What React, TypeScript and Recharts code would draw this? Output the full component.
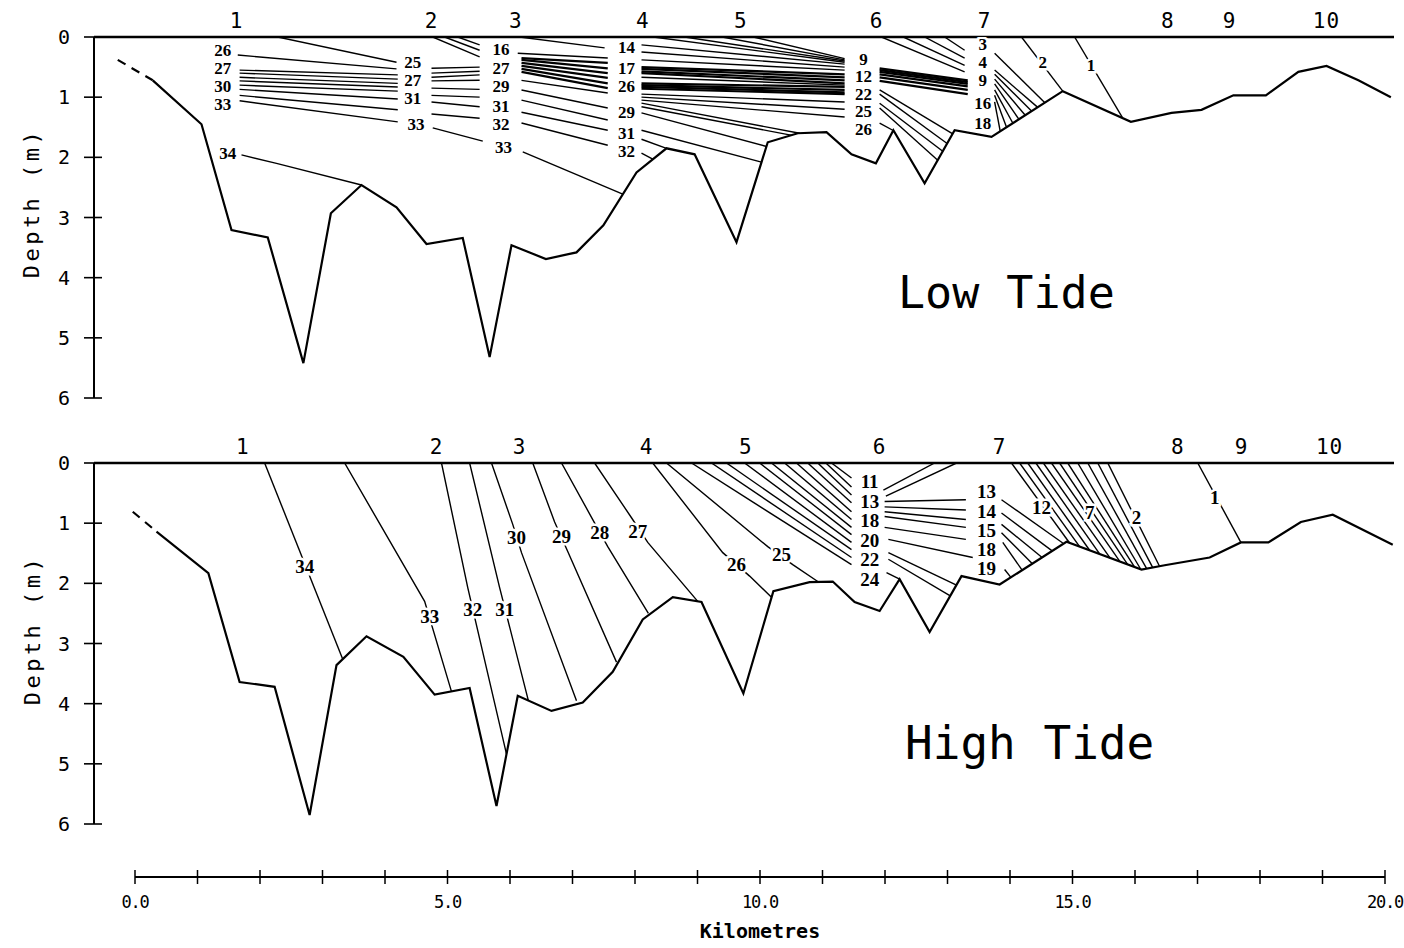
import { ComposedChart, Line, Scatter, XAxis, YAxis } from "recharts";

type Pt = [number, number];
type Tag = [number, number, string];

const MONO = "DejaVu Sans Mono";
const SERIF = "Liberation Serif";
const KM_DOMAIN: [number, number] = [-0.65, 20.15];

// station positions along the estuary (km)
const stationKmLow = [1.63, 4.75, 6.1, 8.13, 9.7, 11.87, 13.6, 16.53, 17.52, 19.07];
const stationKmHigh = [1.73, 4.83, 6.16, 8.19, 9.78, 11.92, 13.84, 16.69, 17.71, 19.12];
const depthTicks = [0, 1, 2, 3, 4, 5, 6];
const kmTicks = [0, 1, 2, 3, 4, 5, 6, 7, 8, 9, 10, 11, 12, 13, 14, 15, 16, 17, 18, 19, 20];

// bed profile, [km, depth m]
const lowBedDashed: Pt[] = [[-0.27, 0.38], [0.29, 0.72]];
const lowBed: Pt[] = [
  [0.29, 0.72], [1.07, 1.45], [1.55, 3.21], [2.13, 3.33], [2.7, 5.42], [3.14, 2.93],
  [3.63, 2.46], [4.19, 2.83], [4.67, 3.44], [5.25, 3.34], [5.68, 5.32], [6.03, 3.46],
  [6.58, 3.69], [7.07, 3.58], [7.5, 3.13], [8.03, 2.25], [8.51, 1.85], [8.96, 1.95],
  [9.63, 3.41], [10.13, 1.75], [10.61, 1.6], [11.07, 1.58], [11.47, 1.95], [11.86, 2.1],
  [12.14, 1.55], [12.64, 2.43], [13.12, 1.55], [13.71, 1.66], [14.85, 0.9], [15.94, 1.41],
  [16.59, 1.26], [17.07, 1.21], [17.58, 0.97], [18.1, 0.97], [18.62, 0.58], [19.07, 0.48],
  [19.58, 0.72], [20.1, 1.0],
];
const highBedDashed: Pt[] = [[-0.03, 0.81], [0.35, 1.14]];
const highBed: Pt[] = [
  [0.35, 1.14], [1.18, 1.83], [1.68, 3.64], [2.24, 3.72], [2.8, 5.85], [3.23, 3.36],
  [3.71, 2.88], [4.3, 3.22], [4.8, 3.85], [5.36, 3.74], [5.79, 5.7], [6.13, 3.87],
  [6.67, 4.12], [7.17, 3.98], [7.65, 3.47], [8.13, 2.6], [8.61, 2.23], [9.07, 2.31],
  [9.74, 3.83], [10.22, 2.13], [10.8, 1.98], [11.17, 1.97], [11.52, 2.31], [11.92, 2.46],
  [12.24, 1.93], [12.72, 2.81], [13.23, 1.88], [13.84, 2.02], [14.91, 1.31], [16.11, 1.77],
  [16.48, 1.7], [17.2, 1.57], [17.7, 1.32], [18.14, 1.32], [18.66, 0.98], [19.17, 0.86],
  [20.13, 1.36],
];

// isohalines, low tide
const lowIsohalines: Pt[][] = [
  [[2.29, 0], [4.19, 0.42]],
  [[1.65, 0.3], [4.19, 0.53]],
  [[1.68, 0.55], [4.21, 0.63]],
  [[1.68, 0.6], [4.21, 0.7]],
  [[1.68, 0.67], [4.21, 0.77]],
  [[1.68, 0.73], [4.21, 0.83]],
  [[1.68, 0.8], [4.21, 0.9]],
  [[1.68, 0.87], [4.21, 1.03]],
  [[1.68, 0.97], [4.21, 1.21]],
  [[1.68, 1.06], [4.21, 1.41]],
  [[1.71, 1.96], [2.27, 2.1], [3.63, 2.46]],
  [[4.77, 0], [5.52, 0.33]],
  [[4.96, 0], [5.52, 0.22]],
  [[5.17, 0], [5.52, 0.13]],
  [[4.75, 0.52], [5.52, 0.5]],
  [[4.75, 0.6], [5.52, 0.57]],
  [[4.75, 0.67], [5.52, 0.63]],
  [[4.75, 0.73], [5.52, 0.72]],
  [[4.75, 0.85], [5.52, 0.87]],
  [[4.75, 0.97], [5.52, 1.0]],
  [[4.75, 1.08], [5.52, 1.16]],
  [[4.75, 1.28], [5.52, 1.35]],
  [[4.77, 1.51], [5.57, 1.73]],
  [[6.16, 0], [7.52, 0.18]],
  [[6.13, 0.27], [7.57, 0.35]],
  [[6.19, 0.72], [7.57, 0.93]],
  [[6.19, 0.88], [7.57, 1.18]],
  [[6.19, 1.05], [7.57, 1.38]],
  [[6.19, 1.25], [7.57, 1.55]],
  [[6.19, 1.43], [7.57, 1.8]],
  [[6.21, 1.91], [7.81, 2.61]],
  [[8.3, 0], [11.36, 0.42]],
  [[8.8, 0], [11.36, 0.4]],
  [[9.4, 0], [11.36, 0.38]],
  [[9.9, 0], [11.36, 0.36]],
  [[8.11, 0.13], [11.36, 0.45]],
  [[8.11, 0.25], [11.36, 0.5]],
  [[8.11, 0.38], [11.36, 0.55]],
  [[8.11, 0.67], [11.36, 0.8]],
  [[8.11, 0.95], [11.36, 1.08]],
  [[8.11, 1.0], [11.36, 1.2]],
  [[8.11, 1.05], [11.36, 1.33]],
  [[8.11, 1.1], [10.64, 1.6]],
  [[8.11, 1.16], [10.5, 1.63]],
  [[8.11, 1.26], [10.11, 1.82]],
  [[8.11, 1.55], [10.03, 2.08]],
  [[8.11, 1.7], [8.51, 1.85]],
  [[8.11, 1.93], [8.29, 2.03]],
  [[11.95, 0], [13.28, 0.58]],
  [[12.3, 0], [13.28, 0.47]],
  [[12.64, 0], [13.28, 0.35]],
  [[12.96, 0], [13.28, 0.22]],
  [[11.92, 0.88], [13.09, 1.61]],
  [[11.92, 0.95], [13.0, 1.77]],
  [[11.92, 1.1], [12.93, 1.9]],
  [[11.92, 1.18], [12.85, 2.05]],
  [[11.92, 1.43], [12.13, 1.55]],
  [[13.76, 0.27], [14.56, 1.09]],
  [[14.19, 0], [14.85, 0.9]],
  [[15.04, 0], [15.81, 1.35]],
  [[13.76, 0.55], [14.45, 1.17]],
  [[13.76, 0.62], [14.35, 1.23]],
  [[13.76, 0.7], [14.25, 1.3]],
  [[13.76, 0.78], [14.15, 1.37]],
  [[13.76, 0.88], [14.05, 1.43]],
  [[13.76, 0.97], [13.95, 1.5]],
  [[13.76, 1.08], [13.85, 1.57]],
];

// tightly packed isohalines (drawn heavier)
const lowBands: Pt[][] = [
  [[6.19, 0.35], [7.57, 0.43]],
  [[6.19, 0.38], [7.57, 0.52]],
  [[6.19, 0.43], [7.57, 0.6]],
  [[6.19, 0.48], [7.57, 0.68]],
  [[6.19, 0.53], [7.57, 0.77]],
  [[6.19, 0.58], [7.57, 0.85]],
  [[8.11, 0.5], [11.36, 0.62]],
  [[8.11, 0.53], [11.36, 0.67]],
  [[8.11, 0.57], [11.36, 0.72]],
  [[8.11, 0.6], [11.36, 0.77]],
  [[8.11, 0.77], [11.36, 0.83]],
  [[8.11, 0.8], [11.36, 0.88]],
  [[8.11, 0.83], [11.36, 0.92]],
  [[8.11, 0.86], [11.36, 0.95]],
  [[11.92, 0.52], [13.33, 0.72]],
  [[11.92, 0.55], [13.33, 0.75]],
  [[11.92, 0.58], [13.33, 0.78]],
  [[11.92, 0.62], [13.33, 0.82]],
  [[11.92, 0.67], [13.33, 0.88]],
  [[11.92, 0.73], [13.33, 0.95]],
];

const lowTags: Tag[] = [
  [1.41, 0.23, "26"], [1.41, 0.53, "27"], [1.41, 0.83, "30"], [1.41, 1.13, "33"], [1.49, 1.93, "34"],
  [4.45, 0.42, "25"], [4.45, 0.72, "27"], [4.45, 1.03, "31"], [4.5, 1.46, "33"],
  [5.86, 0.2, "16"], [5.86, 0.52, "27"], [5.86, 0.83, "29"], [5.86, 1.16, "31"], [5.86, 1.46, "32"], [5.9, 1.83, "33"],
  [7.87, 0.18, "14"], [7.87, 0.52, "17"], [7.87, 0.83, "26"], [7.87, 1.26, "29"], [7.87, 1.6, "31"], [7.87, 1.91, "32"],
  [11.66, 0.37, "9"], [11.66, 0.66, "12"], [11.66, 0.95, "22"], [11.66, 1.24, "25"], [11.66, 1.53, "26"],
  [13.57, 0.13, "3"], [13.57, 0.43, "4"], [13.57, 0.72, "9"], [13.57, 1.1, "16"], [13.57, 1.43, "18"],
  [14.53, 0.43, "2"], [15.3, 0.47, "1"],
];

// isohalines, high tide
const highIsohalines: Pt[][] = [
  [[2.08, 0], [3.33, 3.26]],
  [[3.36, 0], [4.64, 2.3], [5.07, 3.8]],
  [[4.91, 0], [5.33, 2.07], [5.95, 4.84]],
  [[5.36, 0], [5.84, 2.07], [6.3, 3.95]],
  [[5.71, 0], [6.05, 1.02], [6.19, 1.49], [7.07, 3.95]],
  [[6.37, 0], [6.72, 0.98], [6.93, 1.47], [7.71, 3.31]],
  [[6.83, 0], [7.33, 0.94], [7.57, 1.39], [8.22, 2.5]],
  [[7.36, 0], [7.95, 0.91], [8.21, 1.32], [9.01, 2.3]],
  [[8.29, 0], [9.41, 1.49], [9.84, 1.88], [10.19, 2.23]],
  [[8.51, 0], [10.13, 1.39], [10.53, 1.69], [10.93, 1.97]],
  [[8.91, 0], [11.47, 1.69]],
  [[9.23, 0], [11.47, 1.57]],
  [[9.47, 0], [11.47, 1.44]],
  [[9.76, 0], [11.47, 1.32]],
  [[10.0, 0], [11.47, 1.19]],
  [[10.19, 0], [11.47, 1.07]],
  [[10.4, 0], [11.47, 0.94]],
  [[10.59, 0], [11.47, 0.81]],
  [[10.77, 0], [11.47, 0.66]],
  [[10.93, 0], [11.47, 0.53]],
  [[11.06, 0], [11.47, 0.4]],
  [[11.15, 0], [11.47, 0.25]],
  [[11.98, 0.45], [12.8, 0]],
  [[12.02, 0.55], [13.15, 0]],
  [[12.0, 0.64], [13.3, 0.61]],
  [[12.0, 0.73], [13.3, 0.78]],
  [[12.0, 0.81], [13.3, 0.94]],
  [[12.0, 0.89], [13.3, 1.07]],
  [[12.0, 1.07], [13.3, 1.27]],
  [[12.06, 1.27], [13.41, 1.57]],
  [[12.06, 1.49], [13.15, 2.03]],
  [[12.06, 1.6], [13.05, 2.21]],
  [[12.03, 1.82], [12.24, 1.93]],
  [[13.87, 0.61], [14.85, 1.33]],
  [[13.87, 0.83], [14.68, 1.46]],
  [[13.87, 1.02], [14.52, 1.57]],
  [[13.87, 1.16], [14.36, 1.67]],
  [[13.89, 1.32], [14.2, 1.78]],
  [[13.92, 1.77], [14.02, 1.9]],
  [[14.03, 0], [14.96, 1.33]],
  [[14.16, 0], [15.12, 1.39]],
  [[14.29, 0], [15.28, 1.45]],
  [[14.42, 0], [15.44, 1.51]],
  [[14.54, 0], [15.6, 1.57]],
  [[14.67, 0], [15.76, 1.63]],
  [[14.8, 0], [15.89, 1.69]],
  [[14.93, 0], [16.0, 1.73]],
  [[15.09, 0], [16.1, 1.77]],
  [[15.25, 0], [16.19, 1.75]],
  [[15.41, 0], [16.29, 1.74]],
  [[15.57, 0], [16.4, 1.72]],
  [[17.01, 0], [17.7, 1.32]],
];

const highTags: Tag[] = [
  [2.72, 1.72, "34"], [4.72, 2.55, "33"], [5.41, 2.43, "32"], [5.92, 2.43, "31"], [6.11, 1.24, "30"],
  [6.83, 1.22, "29"], [7.44, 1.16, "28"], [8.05, 1.14, "27"], [9.63, 1.69, "26"], [10.35, 1.52, "25"],
  [11.76, 0.31, "11"], [11.76, 0.64, "13"], [11.76, 0.95, "18"], [11.76, 1.28, "20"], [11.76, 1.61, "22"], [11.76, 1.93, "24"],
  [13.63, 0.48, "13"], [13.63, 0.8, "14"], [13.63, 1.12, "15"], [13.63, 1.44, "18"], [13.63, 1.76, "19"],
  [14.51, 0.74, "12"], [15.28, 0.83, "7"], [16.03, 0.91, "2"], [17.28, 0.58, "1"],
];

const rows = (pts: Pt[]) => pts.map(([x, y]) => ({ x, y }));

function DepthTick({ x, y, payload }: any) {
  return (
    <g>
      <line x1={x - 10} x2={x + 8} y1={y} y2={y} stroke="#000" strokeWidth={1.6} />
      <text x={x - 30} y={y} textAnchor="middle" dominantBaseline="central" fontFamily={MONO} fontSize={20} fill="#000">
        {payload.value}
      </text>
    </g>
  );
}

function KmTick({ x, y, payload }: any) {
  const v = payload.value as number;
  return (
    <g>
      <line x1={x} x2={x} y1={y - 7} y2={y + 7} stroke="#000" strokeWidth={1.5} />
      {v % 5 === 0 && (
        <text x={x} y={y + 31} textAnchor="middle" fontFamily={MONO} fontSize={17} letterSpacing={-1.2} fill="#000">
          {v.toFixed(1)}
        </text>
      )}
    </g>
  );
}

function makeTagShape(size: number) {
  return function TagShape(props: any) {
    const { cx, cy, payload } = props;
    return (
      <text
        x={cx}
        y={cy}
        textAnchor="middle"
        dominantBaseline="central"
        fontFamily={SERIF}
        fontWeight="bold"
        fontSize={size}
        fill="#000"
        stroke="#fff"
        strokeWidth={5}
        paintOrder="stroke"
      >
        {payload.t}
      </text>
    );
  };
}

const lowTagShape = makeTagShape(17);
const highTagShape = makeTagShape(19);

function Panel({
  stations,
  bedDashed,
  bed,
  lines,
  bands,
  tags,
  tagShape,
}: {
  stations: number[];
  bedDashed: Pt[];
  bed: Pt[];
  lines: Pt[][];
  bands: Pt[][];
  tags: Tag[];
  tagShape: (p: any) => any;
}) {
  return (
    <ComposedChart width={1404} height={420} margin={{ top: 0, right: 10, bottom: 22, left: 0 }}>
      <XAxis
        type="number"
        dataKey="x"
        orientation="top"
        domain={KM_DOMAIN}
        allowDataOverflow
        ticks={stations}
        interval={0}
        tickFormatter={(v) => String(stations.indexOf(v) + 1)}
        height={37}
        axisLine={{ stroke: "#000", strokeWidth: 2.5 }}
        tickLine={false}
        tickSize={0}
        tickMargin={9}
        tick={{ fill: "#000", fontSize: 21, fontFamily: MONO, letterSpacing: 1 }}
      />
      <YAxis
        type="number"
        dataKey="y"
        domain={[0, 6]}
        reversed
        allowDataOverflow
        ticks={depthTicks}
        interval={0}
        width={94}
        axisLine={{ stroke: "#000", strokeWidth: 2 }}
        tickLine={false}
        tickSize={0}
        tickMargin={0}
        tick={<DepthTick />}
      />
      {lines.map((pts, i) => (
        <Line key={"l" + i} data={rows(pts)} dataKey="y" type="linear" stroke="#000" strokeWidth={1.4} dot={false} activeDot={false} isAnimationActive={false} />
      ))}
      {bands.map((pts, i) => (
        <Line key={"b" + i} data={rows(pts)} dataKey="y" type="linear" stroke="#000" strokeWidth={2.2} dot={false} activeDot={false} isAnimationActive={false} />
      ))}
      <Line data={rows(bedDashed)} dataKey="y" type="linear" stroke="#000" strokeWidth={2.2} strokeDasharray="9 7" dot={false} activeDot={false} isAnimationActive={false} />
      <Line data={rows(bed)} dataKey="y" type="linear" stroke="#000" strokeWidth={2.2} dot={false} activeDot={false} isAnimationActive={false} />
      <Scatter data={tags.map(([x, y, t]) => ({ x, y, t }))} dataKey="y" shape={tagShape} isAnimationActive={false} />
    </ComposedChart>
  );
}

export default function App() {
  return (
    <div style={{ position: "absolute", left: 0, top: 0, width: 1404, height: 948, background: "#fff" }}>
      <div style={{ position: "absolute", left: 0, top: 0 }}>
        <Panel stations={stationKmLow} bedDashed={lowBedDashed} bed={lowBed} lines={lowIsohalines} bands={lowBands} tags={lowTags} tagShape={lowTagShape} />
      </div>
      <div style={{ position: "absolute", left: 0, top: 426 }}>
        <Panel stations={stationKmHigh} bedDashed={highBedDashed} bed={highBed} lines={highIsohalines} bands={[]} tags={highTags} tagShape={highTagShape} />
      </div>
      <div style={{ position: "absolute", left: 0, top: 850 }}>
        <ComposedChart width={1404} height={98} margin={{ top: 0, right: 19, bottom: 0, left: 135 }}>
          <XAxis
            type="number"
            dataKey="x"
            domain={[0, 20]}
            ticks={kmTicks}
            interval={0}
            height={71}
            axisLine={{ stroke: "#000", strokeWidth: 2 }}
            tickLine={false}
            tickSize={0}
            tickMargin={0}
            tick={<KmTick />}
            label={{ value: "Kilometres", position: "insideBottom", offset: 10, fill: "#000", fontSize: 20, fontFamily: MONO, fontWeight: "bold" }}
          />
          <YAxis type="number" dataKey="y" domain={[0, 1]} hide />
          {/* invisible carrier so the axis has data to tick */}
          <Line data={kmTicks.map((x) => ({ x, y: 0 }))} dataKey="y" stroke="none" dot={false} activeDot={false} isAnimationActive={false} />
        </ComposedChart>
      </div>
      <svg width={1404} height={948} style={{ position: "absolute", left: 0, top: 0, pointerEvents: "none" }}>
        <text x={31} y={203} transform="rotate(-90 31 203)" textAnchor="middle" dominantBaseline="central" fontFamily={MONO} fontSize={22} letterSpacing={3.5} fill="#000">
          Depth (m)
        </text>
        <text x={32} y={630} transform="rotate(-90 32 630)" textAnchor="middle" dominantBaseline="central" fontFamily={MONO} fontSize={22} letterSpacing={3.5} fill="#000">
          Depth (m)
        </text>
        <text x={898} y={308} fontFamily={MONO} fontSize={45} fill="#000">
          Low Tide
        </text>
        <text x={905} y={759} fontFamily={MONO} fontSize={46} fill="#000">
          High Tide
        </text>
      </svg>
    </div>
  );
}
